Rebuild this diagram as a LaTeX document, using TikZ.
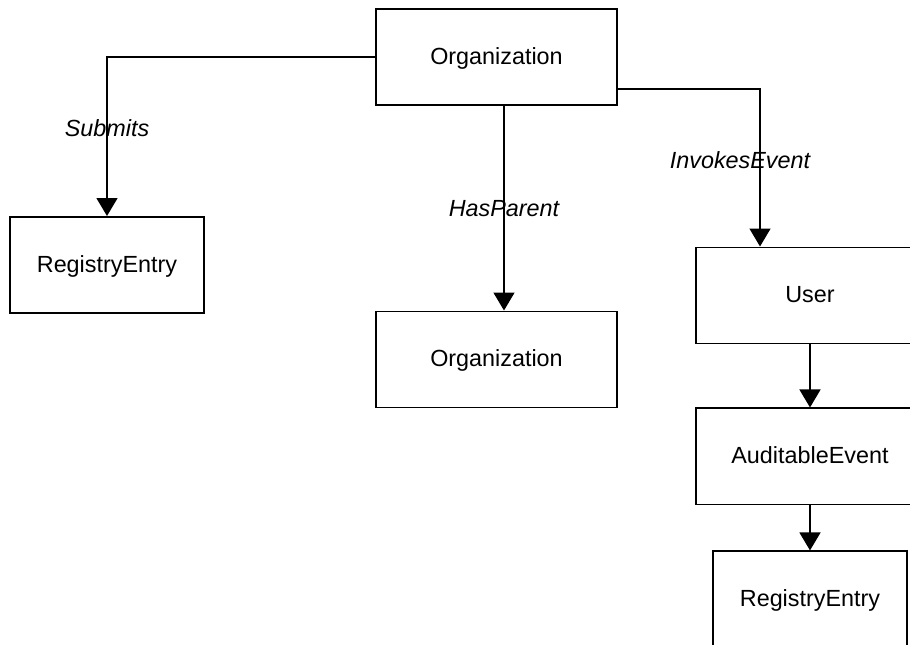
\documentclass[tikz,border=0pt]{standalone}
\usepackage{fontspec}
\setmainfont{Liberation Sans}
\usetikzlibrary{positioning,arrows.meta}
\tikzset{x=0.02cm, y=-0.02cm}
\tikzstyle{cls}=[draw, rectangle, minimum width=4.82cm, minimum height=1.93cm, inner sep=0pt, text depth=0.3ex, font=\fontsize{13.3}{16}\selectfont]
\tikzstyle{rel}=[inner sep=0pt, font=\fontsize{13.3}{16}\selectfont\itshape]
\tikzstyle{arrow}=[-{Triangle[width=0.42cm,length=0.36cm]}]

\begin{document}
\begin{tikzpicture}[line width=0.85pt]
  \clip (0,0) rectangle (910,645);

  \node[cls] (org) at (496.5,57) {Organization};
  \node[cls, minimum width=3.88cm] (reg) at (107,265) {RegistryEntry};
  \node[cls] (parent) at (496.5,359.5) {Organization};
  \node[cls, minimum width=4.56cm] (user) at (810,295.5) {User};
  \node[cls, minimum width=4.56cm] (event) [below=1.26cm of user] {AuditableEvent};
  \node[cls, minimum width=3.88cm] (entry) [below=0.9cm of event] {RegistryEntry};

  \draw[arrow] (org.west) -| node[rel, pos=0.725] {Submits} (reg.north);
  \draw[arrow] ([xshift=0.15cm]org.south) -- node[rel] {HasParent} ([xshift=0.15cm]parent.north);
  \draw[arrow] ([yshift=-0.64cm]org.east) -| node[rel, pos=0.725, xshift=-0.4cm] {InvokesEvent} ([xshift=-1cm]user.north);
  \draw[arrow] (user) -- (event);
  \draw[arrow] (event) -- (entry);
\end{tikzpicture}
\end{document}
